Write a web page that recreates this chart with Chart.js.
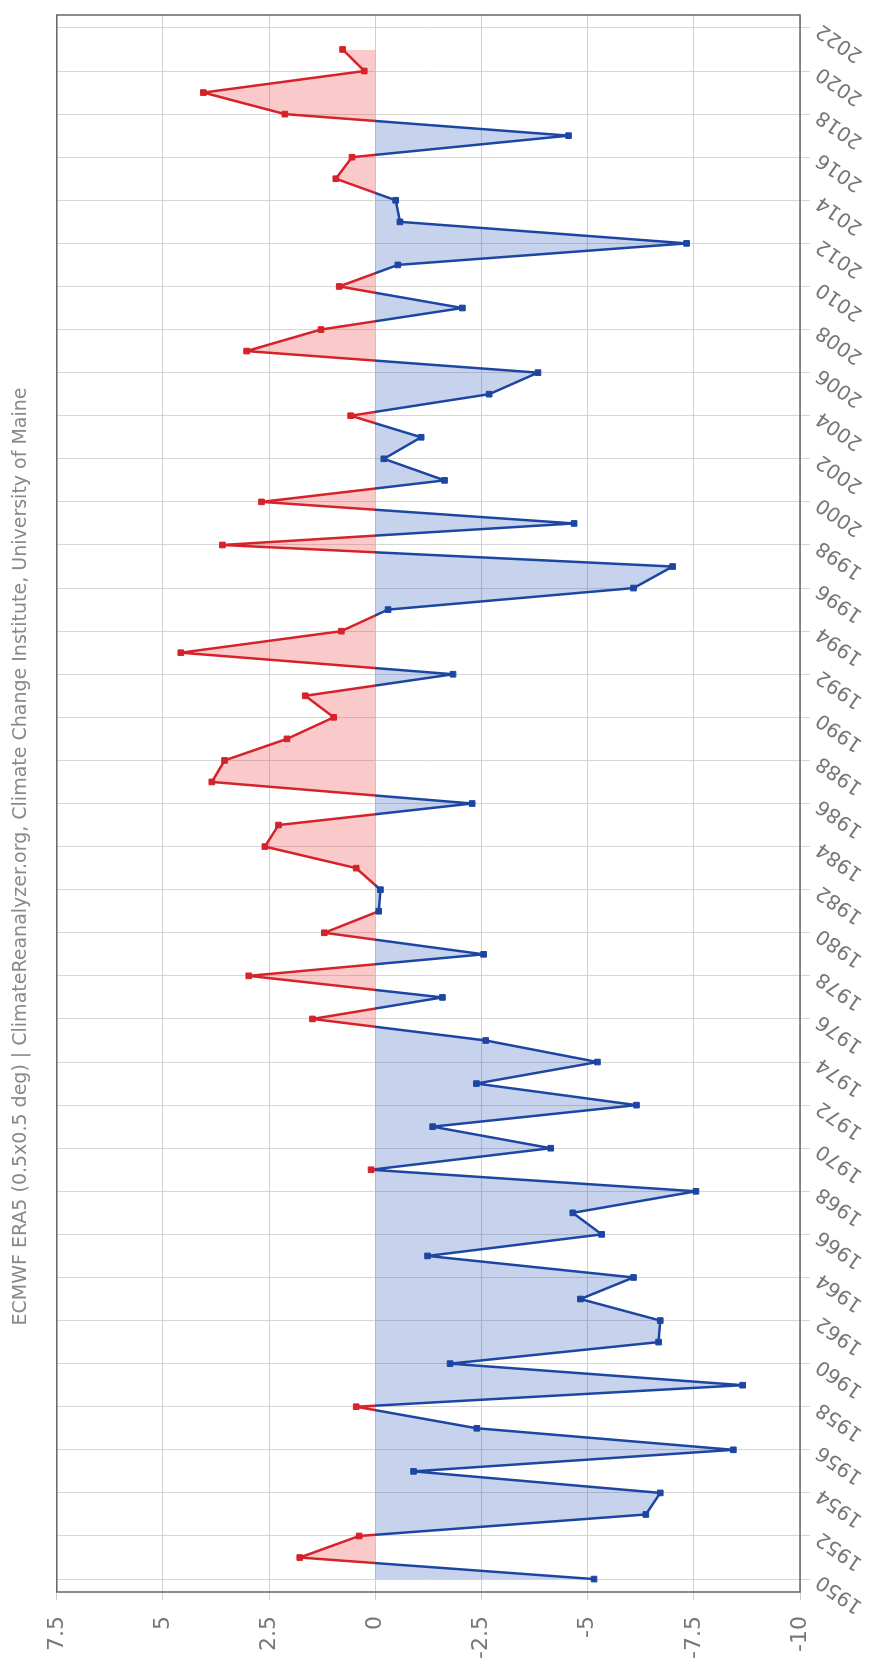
<!DOCTYPE html>
<html>
<head>
<meta charset="utf-8">
<script src="https://cdn.jsdelivr.net/npm/chart.js@4.4.1/dist/chart.umd.min.js"></script>
<style>
  html, body { margin: 0; padding: 0; background: #fff; }
  body { width: 870px; height: 1662px; overflow: hidden; position: relative; }
  /* chart is laid out landscape and turned a quarter turn counter-clockwise */
  #frame {
    position: absolute; left: 0; top: 0;
    width: 1698px; height: 870px;
    transform-origin: 0 0;
    transform: translate(0, 1698px) rotate(-90deg);
  }
</style>
</head>
<body>
<div id="frame"><canvas id="c" width="1698" height="870"></canvas></div>
<script>
// annual anomaly per year
const years = [
  1950, 1951, 1952, 1953, 1954, 1955, 1956, 1957, 1958, 1959,
  1960, 1961, 1962, 1963, 1964, 1965, 1966, 1967, 1968, 1969,
  1970, 1971, 1972, 1973, 1974, 1975, 1976, 1977, 1978, 1979,
  1980, 1981, 1982, 1983, 1984, 1985, 1986, 1987, 1988, 1989,
  1990, 1991, 1992, 1993, 1994, 1995, 1996, 1997, 1998, 1999,
  2000, 2001, 2002, 2003, 2004, 2005, 2006, 2007, 2008, 2009,
  2010, 2011, 2012, 2013, 2014, 2015, 2016, 2017, 2018, 2019,
  2020, 2021
];
const anomalies = [
  -5.15, 1.78, 0.38, -6.37, -6.71, -0.90, -8.43, -2.39, 0.45, -8.65,
  -1.76, -6.67, -6.71, -4.83, -6.08, -1.23, -5.33, -4.65, -7.55, 0.10,
  -4.13, -1.35, -6.15, -2.38, -5.23, -2.60, 1.48, -1.58, 2.98, -2.55,
  1.20, -0.08, -0.12, 0.45, 2.60, 2.28, -2.28, 3.85, 3.55, 2.08,
  0.98, 1.65, -1.83, 4.58, 0.80, -0.30, -6.08, -7.00, 3.60, -4.68,
  2.68, -1.63, -0.20, -1.08, 0.58, -2.68, -3.83, 3.03, 1.28, -2.05,
  0.85, -0.53, -7.33, -0.58, -0.48, 0.93, 0.55, -4.55, 2.13, 4.05,
  0.26, 0.77
];
const yearTicks = [
  1950, 1952, 1954, 1956, 1958, 1960, 1962, 1964, 1966, 1968,
  1970, 1972, 1974, 1976, 1978, 1980, 1982, 1984, 1986, 1988,
  1990, 1992, 1994, 1996, 1998, 2000, 2002, 2004, 2006, 2008,
  2010, 2012, 2014, 2016, 2018, 2020, 2022
];
const valueTicks = [-10, -7.5, -5, -2.5, 0, 2.5, 5, 7.5];
const sourceNote = 'ECMWF ERA5 (0.5x0.5 deg) | ClimateReanalyzer.org, Climate Change Institute, University of Maine';

const WARM = '#d6222a';
const COOL = '#1d46a2';
const FONT = 'DejaVu Sans';

// stroke colour switches from warm to cool exactly at the zero line
function zeroSplit(chart) {
  const area = chart.chartArea;
  if (!area) return COOL;
  const y0 = chart.scales.y.getPixelForValue(0);
  const t = Math.min(Math.max((y0 - area.top) / (area.bottom - area.top), 0), 1);
  const g = chart.ctx.createLinearGradient(0, area.top, 0, area.bottom);
  g.addColorStop(0, WARM);
  g.addColorStop(t, WARM);
  g.addColorStop(t, COOL);
  g.addColorStop(1, COOL);
  return g;
}

const pointColour = ctx => (ctx.raw && ctx.raw.y >= 0) ? WARM : COOL;

// frame around the plotting area
const plotFrame = {
  id: 'plotFrame',
  beforeDatasetsDraw(chart) {
    const { ctx, chartArea: a } = chart;
    ctx.save();
    ctx.strokeStyle = '#666';
    ctx.lineWidth = 1.5;
    ctx.strokeRect(a.left, a.top, a.right - a.left, a.bottom - a.top);
    ctx.restore();
  }
};

new Chart(document.getElementById('c'), {
  type: 'line',
  data: {
    datasets: [{
      data: years.map((yr, i) => ({ x: yr, y: anomalies[i] })),
      borderColor: ctx => zeroSplit(ctx.chart),
      borderWidth: 2.5,
      borderJoinStyle: 'round',
      tension: 0,
      fill: { target: 'origin', above: 'rgba(240, 80, 80, 0.3)', below: 'rgba(30, 80, 180, 0.25)' },
      pointStyle: 'rect',
      pointRadius: 4,
      pointBorderWidth: 1,
      pointBackgroundColor: pointColour,
      pointBorderColor: pointColour
    }]
  },
  options: {
    responsive: false,
    animation: false,
    devicePixelRatio: 1,
    layout: { padding: { top: 0, right: 15, bottom: 0, left: 0 } },
    plugins: {
      legend: { display: false },
      tooltip: { enabled: false },
      title: {
        display: true,
        text: sourceNote,
        color: '#888',
        font: { family: FONT, size: 19, weight: 'normal' },
        padding: { top: 10, bottom: 24 }
      }
    },
    scales: {
      x: {
        type: 'linear',
        min: 1949.4,
        max: 2022.6,
        afterBuildTicks: s => { s.ticks = yearTicks.map(v => ({ value: v })); },
        afterFit: s => { s.height = 70; },
        ticks: {
          autoSkip: false,
          minRotation: 55,
          maxRotation: 55,
          padding: 2,
          color: '#777',
          font: { family: FONT, size: 20 },
          callback: v => String(v)
        },
        grid: { color: '#d6d6d6', lineWidth: 1, tickLength: 10 },
        border: { display: false }
      },
      y: {
        type: 'linear',
        min: -10,
        max: 7.5,
        afterBuildTicks: s => { s.ticks = valueTicks.map(v => ({ value: v })); },
        afterFit: s => { s.width = 106; },
        ticks: {
          padding: 16,
          color: '#777',
          font: { family: FONT, size: 22 },
          callback: v => String(v)
        },
        grid: { color: '#cfcfcf', lineWidth: 1, tickLength: 8 },
        border: { display: false }
      }
    }
  },
  plugins: [plotFrame]
});
</script>
</body>
</html>
